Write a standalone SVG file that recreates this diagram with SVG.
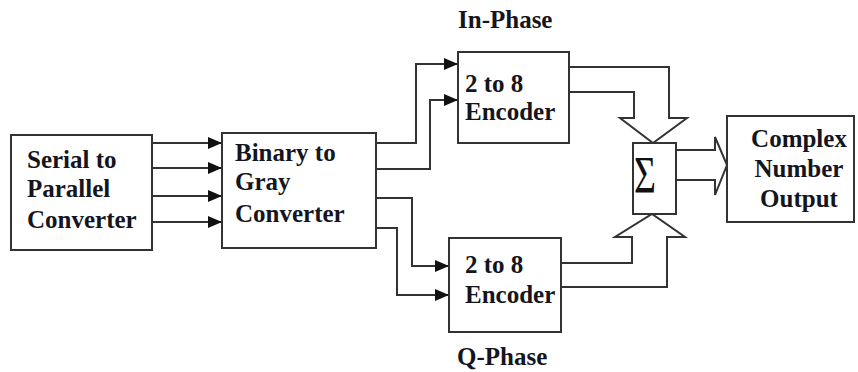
<svg xmlns="http://www.w3.org/2000/svg" width="858" height="372" viewBox="0 0 858 372">
<style>
.box{fill:#fff;stroke:#333;stroke-width:2}
.ln{fill:none;stroke:#333;stroke-width:2}
.t{font-family:'Liberation Serif','DejaVu Serif',serif;font-weight:bold;font-size:25px;fill:#151520}
.c{text-anchor:middle}
</style>
<defs>
<marker id="ah" viewBox="0 0 14 12" refX="14" refY="6" markerWidth="14" markerHeight="12" markerUnits="userSpaceOnUse" orient="auto">
<path d="M0,0 L14,6 L0,12 Z" fill="#111"/>
</marker>
</defs>
<rect width="858" height="372" fill="#fff"/>
<g id="connectors">
<path class="ln" d="M152,143 H222" marker-end="url(#ah)"/>
<path class="ln" d="M152,168 H222" marker-end="url(#ah)"/>
<path class="ln" d="M152,196 H222" marker-end="url(#ah)"/>
<path class="ln" d="M152,222 H222" marker-end="url(#ah)"/>
<path class="ln" d="M376,143 H416 V64 H458" marker-end="url(#ah)"/>
<path class="ln" d="M376,169 H430 V100 H458" marker-end="url(#ah)"/>
<path class="ln" d="M376,198 H412 V266 H449" marker-end="url(#ah)"/>
<path class="ln" d="M376,228 H397 V295 H449" marker-end="url(#ah)"/>
<path class="ln" d="M569,67 H669 V118 H687 L653,143 L620,118 H634 V92 H569"/>
<path class="ln" d="M561,263 H632 V237 H615 L652,214 L685,237 H667 V287 H561"/>
<path class="ln" d="M677,150 H715 V137 L727,165 L715,195 V180 H677"/>
</g>
<g id="serial-to-parallel">
<rect class="box" x="11" y="135" width="141" height="115"/>
<text class="t" x="27" y="168">Serial to</text>
<text class="t" x="27" y="197">Parallel</text>
<text class="t" x="27" y="228">Converter</text>
</g>
<g id="binary-to-gray">
<rect class="box" x="222" y="133" width="154" height="115"/>
<text class="t" x="235" y="161">Binary to</text>
<text class="t" x="235" y="190">Gray</text>
<text class="t" x="235" y="222">Converter</text>
</g>
<g id="in-phase-encoder">
<rect class="box" x="458" y="52" width="111" height="91"/>
<text class="t" x="465" y="92">2 to 8</text>
<text class="t" x="465" y="120">Encoder</text>
</g>
<g id="in-phase-label">
<text class="t" x="458" y="28">In-Phase</text>
</g>
<g id="q-phase-encoder">
<rect class="box" x="449" y="238" width="112" height="94"/>
<text class="t" x="465" y="273">2 to 8</text>
<text class="t" x="465" y="303">Encoder</text>
</g>
<g id="q-phase-label">
<text class="t" x="457" y="365">Q-Phase</text>
</g>
<g id="sum">
<rect class="box" x="633" y="143" width="43" height="71"/>
<text x="634" y="193" font-family="'Liberation Serif','DejaVu Serif',serif" font-size="52" fill="#111" textLength="22" lengthAdjust="spacingAndGlyphs">Σ</text>
</g>
<g id="complex-output">
<rect class="box" x="727" y="116" width="127" height="106"/>
<text class="t c" x="799" y="147">Complex</text>
<text class="t c" x="799" y="177">Number</text>
<text class="t c" x="799" y="207">Output</text>
</g>
</svg>
